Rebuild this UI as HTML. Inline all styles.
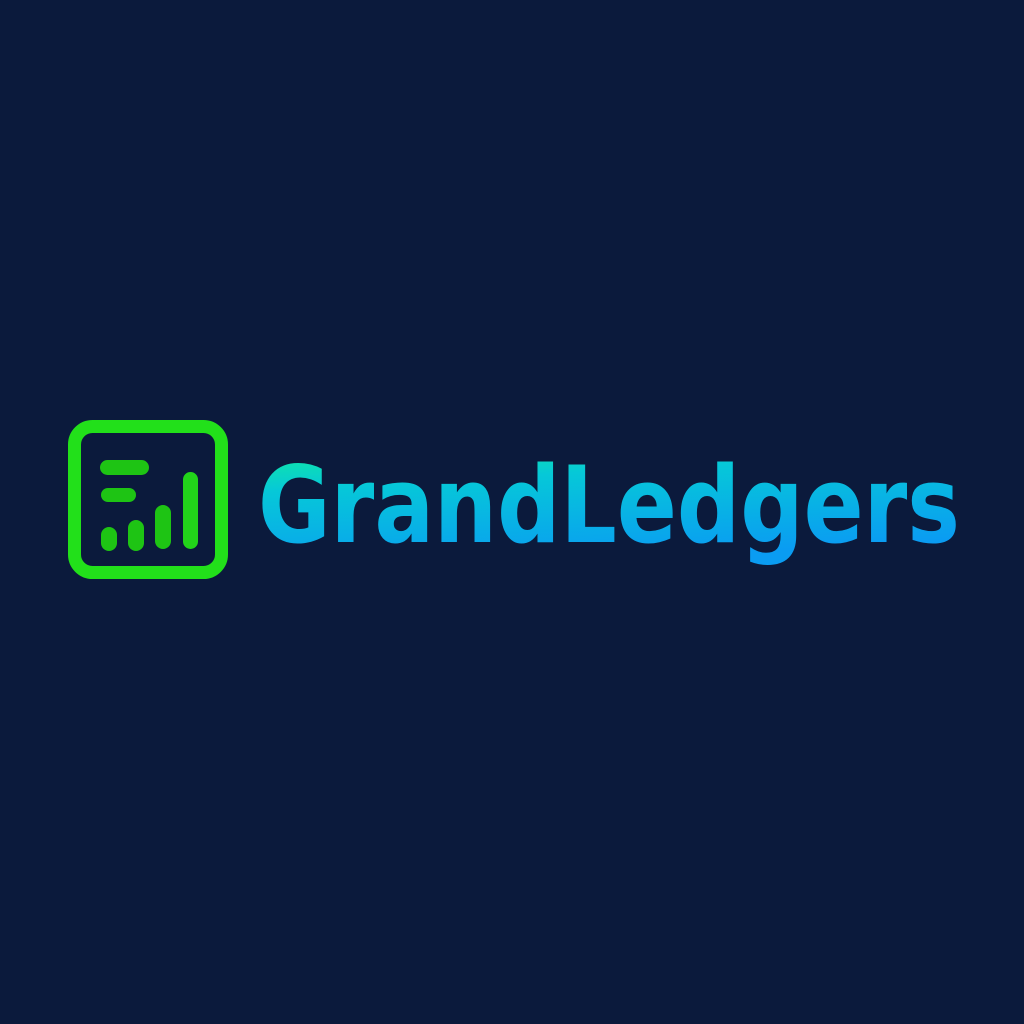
<!DOCTYPE html>
<html><head><meta charset="utf-8"><style>
html,body{margin:0;padding:0;background:#0b1a3c;width:1024px;height:1024px;overflow:hidden}
</style></head><body>
<svg width="1024" height="1024" viewBox="0 0 1024 1024" xmlns="http://www.w3.org/2000/svg">
<defs>
<linearGradient id="tg" x1="0" y1="0" x2="0.35" y2="1">
<stop offset="0" stop-color="#12f09a"/><stop offset="0.35" stop-color="#06c8d8"/><stop offset="1" stop-color="#0a9cf2"/>
</linearGradient>
</defs>
<rect width="1024" height="1024" fill="#0b1a3c"/>
<g>
<rect x="74.5" y="426.5" width="147" height="146" rx="18" fill="none" stroke="#22e01a" stroke-width="13"/>
<rect x="100" y="460" width="49" height="15" rx="7.5" fill="#1ec414"/>
<rect x="101" y="488" width="35" height="14" rx="7" fill="#1ec414"/>
<rect x="101" y="527" width="16" height="24" rx="8" fill="#1ec414"/>
<rect x="128" y="520" width="16" height="31" rx="8" fill="#1ec414"/>
<rect x="155" y="505" width="16" height="44" rx="8" fill="#1ec414"/>
<rect x="183" y="472" width="15" height="77" rx="7.5" fill="#22d41a"/>
</g>
<text x="258" y="542" textLength="702" lengthAdjust="spacingAndGlyphs" font-family="'DejaVu Sans','Liberation Sans',sans-serif" font-weight="bold" font-size="106" fill="url(#tg)">GrandLedgers</text>
</svg>
</body></html>
